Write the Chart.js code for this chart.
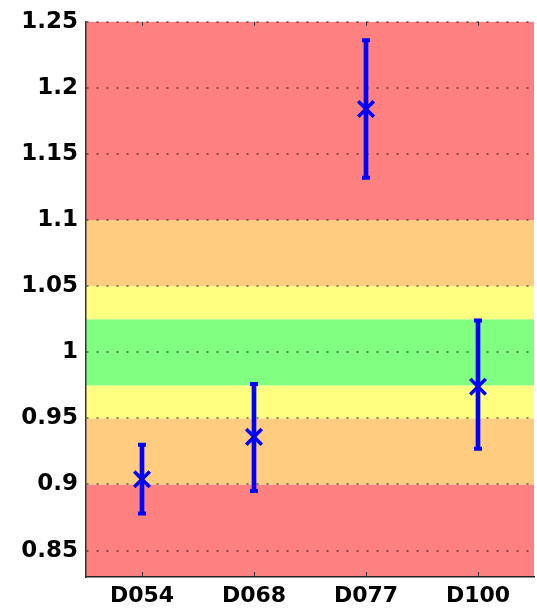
<!DOCTYPE html>
<html>
<head>
<meta charset="utf-8">
<script src="https://cdn.jsdelivr.net/npm/chart.js@4"></script>
<style>
  html, body { margin: 0; padding: 0; background: #fff; overflow: hidden; }
  canvas { display: block; }
</style>
</head>
<body>
<canvas id="chart" width="537" height="614"></canvas>
<script>
const labels = ["D054", "D068", "D077", "D100"];
const centers = [0.904, 0.936, 1.184, 0.974];
const lows = [0.878, 0.895, 1.132, 0.927];
const highs = [0.930, 0.976, 1.236, 1.024];
const yTicks = [0.85, 0.9, 0.95, 1, 1.05, 1.1, 1.15, 1.2, 1.25];
// colour bands, bottom to top
const bandEdges = [0.83, 0.9, 0.95, 0.975, 1.025, 1.05, 1.1, 1.25];
const bandColors = ['#ff8080', '#ffcc80', '#ffff80', '#80ff80', '#ffff80', '#ffcc80', '#ff8080'];

const blue = '#0000ff';

const bands = {
    id: 'bands',
    beforeDraw(chart) {
        const {ctx, chartArea: a, scales: {x, y}} = chart;
        ctx.save();
        for (let i = 0; i < bandColors.length; i++) {
            const top = y.getPixelForValue(bandEdges[i + 1]);
            const bot = y.getPixelForValue(bandEdges[i]);
            ctx.fillStyle = bandColors[i];
            ctx.fillRect(a.left, top, a.right - a.left, bot - top);
        }
        // small inward ticks top and bottom
        ctx.strokeStyle = '#333';
        ctx.lineWidth = 1;
        labels.forEach((l, i) => {
            const px = Math.round(x.getPixelForValue(i)) + 0.5;
            ctx.beginPath();
            ctx.moveTo(px, a.bottom); ctx.lineTo(px, a.bottom - 5);
            ctx.moveTo(px, a.top); ctx.lineTo(px, a.top + 4);
            ctx.stroke();
        });
        ctx.restore();
    }
};

new Chart(document.getElementById('chart').getContext('2d'), {
    type: 'bar',
    data: {
        labels: labels,
        datasets: [
            {
                type: 'line',
                data: centers,
                showLine: false,
                pointStyle: 'crossRot',
                pointRadius: 11,
                borderWidth: 3.5,
                pointBorderWidth: 3.5,
                borderColor: blue,
                pointBorderColor: blue,
                pointBackgroundColor: blue
            },
            {
                type: 'line',
                data: lows,
                showLine: false,
                pointStyle: 'line',
                pointRadius: 4,
                pointBorderWidth: 4,
                pointBorderColor: blue
            },
            {
                type: 'line',
                data: highs,
                showLine: false,
                pointStyle: 'line',
                pointRadius: 4,
                pointBorderWidth: 4,
                pointBorderColor: blue
            },
            {
                data: labels.map((l, i) => [lows[i], highs[i]]),
                backgroundColor: blue,
                barThickness: 4
            }
        ]
    },
    plugins: [bands],
    options: {
        responsive: false,
        animation: false,
        layout: { autoPadding: false, padding: { top: 20, right: 3, left: 0, bottom: 0 } },
        plugins: {
            legend: { display: false },
            tooltip: { enabled: false }
        },
        scales: {
            x: {
                offset: true,
                grid: { display: false, drawTicks: false },
                border: { color: '#222', width: 1.5 },
                ticks: {
                    color: '#000',
                    padding: 6,
                    font: { family: 'DejaVu Sans', size: 22, weight: 'bold' }
                },
                afterFit: s => { s.height = 37; }
            },
            y: {
                min: 0.83,
                max: 1.25,
                grid: {
                    color: 'rgba(0,0,0,0.45)',
                    lineWidth: 2,
                    drawTicks: false
                },
                border: { color: '#333', width: 1.5, dash: [2, 8] },
                ticks: {
                    color: '#000',
                    padding: 8,
                    font: { family: 'DejaVu Sans', size: 23, weight: 'bold' },
                    callback: v => String(Math.round(v * 100) / 100)
                },
                afterBuildTicks: s => { s.ticks = yTicks.map(v => ({value: v})); },
                afterFit: s => { s.width = 86; }
            }
        }
    }
});
</script>
</body>
</html>
